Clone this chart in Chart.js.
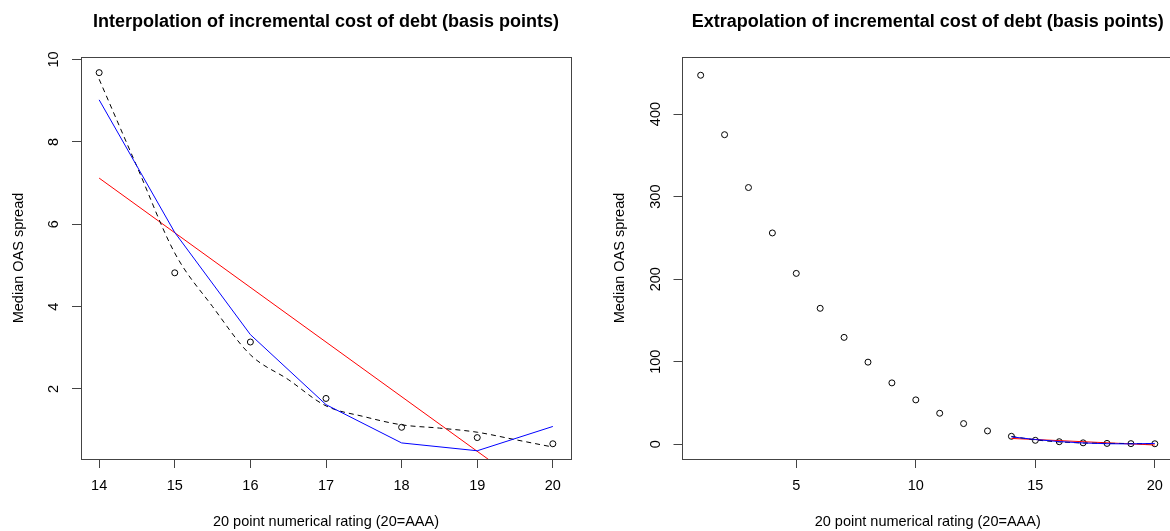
<!DOCTYPE html>
<html><head><meta charset="utf-8">
<script src="https://cdn.jsdelivr.net/npm/chart.js@4/dist/chart.umd.min.js"></script>
<style>
html,body{margin:0;padding:0;background:#fff;overflow:hidden;width:1170px;height:531px;position:relative;}
#c1{position:absolute;left:0;top:0;}
#c2{position:absolute;left:600px;top:0;}
</style></head><body>
<canvas id="c1" width="600" height="531"></canvas>
<canvas id="c2" width="600" height="531"></canvas>
<script>
// ---- data ----
const ratings = [14, 15, 16, 17, 18, 19, 20];
const medianSpread = [9.68, 4.82, 3.14, 1.77, 1.07, 0.82, 0.67];
const linearFit = [9.02, 5.80, 3.32, 1.62, 0.69, 0.50, 1.09];
const smoothX = [14, 14.5, 15, 15.5, 16, 16.5, 17, 17.5, 18, 18.5, 19, 19.5, 20];
const smoothY = [9.52, 7.40, 5.30, 4.00, 2.83, 2.23, 1.59, 1.33, 1.13, 1.05, 0.95, 0.77, 0.59];
const regressionX = [14, 20];
const regressionY = [7.12, -0.84];
const allRatings = [1, 2, 3, 4, 5, 6, 7, 8, 9, 10, 11, 12, 13, 14, 15, 16, 17, 18, 19, 20];
const allSpread = [447, 375, 311, 256, 207, 164.7, 129.5, 99.5, 74.4, 53.8, 37.6, 25.1, 16.2, 9.68, 4.82, 3.14, 1.77, 1.07, 0.82, 0.67];
const leftXTicks = [14, 15, 16, 17, 18, 19, 20];
const leftYTicks = [2, 4, 6, 8, 10];
const rightXTicks = [5, 10, 15, 20];
const rightYTicks = [0, 100, 200, 300, 400];
const leftTitle = 'Interpolation of incremental cost of debt (basis points)';
const rightTitle = 'Extrapolation of incremental cost of debt (basis points)';
const xLabel = '20 point numerical rating (20=AAA)';
const yLabel = 'Median OAS spread';

const FAMILY = '"Liberation Sans", Arial, sans-serif';
const toXY = (xs, ys) => xs.map((x, i) => ({x: x, y: ys[i]}));

const boxPlugin = {
  id: 'rbox',
  afterDraw(chart) {
    const a = chart.chartArea, ctx = chart.ctx;
    ctx.save();
    ctx.strokeStyle = '#444';
    ctx.lineWidth = 1;
    const l = Math.floor(a.left) + 0.5, t = Math.floor(a.top) + 0.5;
    const r = Math.floor(a.right) + 0.5, b = Math.floor(a.bottom) + 0.5;
    ctx.strokeRect(l, t, r - l, b - t);
    ctx.restore();
  }
};

function makeChart(canvas, o) {
  const datasets = [
    {data: toXY(o.lineX1, o.lineY1), showLine: true, borderColor: '#0000ff', borderWidth: 1, pointRadius: 0, tension: 0},
    {data: toXY(o.lineX2, o.lineY2), showLine: true, borderColor: '#000000', borderWidth: 1, borderDash: [5, 4], pointRadius: 0, cubicInterpolationMode: 'monotone'},
    {data: toXY(o.lineX3, o.lineY3), showLine: true, borderColor: '#ff0000', borderWidth: 1, pointRadius: 0, tension: 0},
    {data: toXY(o.ptX, o.ptY), showLine: false, pointRadius: 3, pointBorderWidth: 1, pointBorderColor: '#000', pointBackgroundColor: 'rgba(0,0,0,0)', pointHoverRadius: 3}
  ];
  return new Chart(canvas, {
    type: 'scatter',
    data: {datasets},
    plugins: [boxPlugin],
    options: {
      responsive: false,
      animation: false,
      events: [],
      layout: {padding: {left: 0, top: 0, bottom: 0, right: o.padRight}},
      plugins: {
        legend: {display: false},
        tooltip: {enabled: false},
        title: {
          display: true, text: o.title, fullSize: false, color: '#000',
          font: {family: FAMILY, size: 18, weight: 'bold', lineHeight: 1.2},
          padding: {top: 11, bottom: 24.4}
        }
      },
      scales: {
        x: {
          type: 'linear', position: 'bottom', min: o.xMin, max: o.xMax,
          afterBuildTicks: s => { s.ticks = o.xTicks.map(v => ({value: v})); },
          afterFit: s => { s.height = 72; s.paddingLeft = 0; s.paddingRight = 0; },
          grid: {drawOnChartArea: false, drawTicks: true, tickLength: 9, color: '#444', lineWidth: 1},
          border: {display: false},
          ticks: {autoSkip: false, maxRotation: 0, minRotation: 0, color: '#000', padding: 9.6,
                  font: {family: FAMILY, size: 14.5}},
          title: {display: true, text: xLabel, color: '#000', font: {family: FAMILY, size: 14.5, lineHeight: 1},
                  padding: {top: 0, bottom: 1.75}}
        },
        y: {
          type: 'linear', position: 'left', min: o.yMin, max: o.yMax,
          afterBuildTicks: s => { s.ticks = o.yTicks.map(v => ({value: v})); },
          afterFit: s => { s.width = o.yWidth; s.paddingTop = 0; s.paddingBottom = 0; },
          grid: {drawOnChartArea: false, drawTicks: true, tickLength: 9, color: '#444', lineWidth: 1},
          border: {display: false},
          ticks: {autoSkip: false, minRotation: 90, maxRotation: 90, crossAlign: 'center', color: '#000',
                  padding: o.yTickPad, font: {family: FAMILY, size: 14.5}},
          title: {display: true, text: yLabel, color: '#000', font: {family: FAMILY, size: 14.5, lineHeight: 1},
                  padding: {top: o.yTitlePad, bottom: 0}}
        }
      }
    }
  });
}

makeChart(document.getElementById('c1'), {
  title: leftTitle, padRight: 29, yWidth: 81, yTickPad: 9.75, yTitlePad: 11.75,
  xMin: 13.76, xMax: 20.24, yMin: 0.30, yMax: 10.06,
  xTicks: leftXTicks, yTicks: leftYTicks,
  ptX: ratings, ptY: medianSpread,
  lineX1: ratings, lineY1: linearFit,
  lineX2: smoothX, lineY2: smoothY,
  lineX3: regressionX, lineY3: regressionY
});

makeChart(document.getElementById('c2'), {
  title: rightTitle, padRight: 27, yWidth: 82.5, yTickPad: 5.6, yTitlePad: 12.75,
  xMin: 0.24, xMax: 20.76, yMin: -17.8, yMax: 469.1,
  xTicks: rightXTicks, yTicks: rightYTicks,
  ptX: allRatings, ptY: allSpread,
  lineX1: ratings, lineY1: linearFit,
  lineX2: smoothX, lineY2: smoothY,
  lineX3: regressionX, lineY3: regressionY
});
</script>
</body></html>
